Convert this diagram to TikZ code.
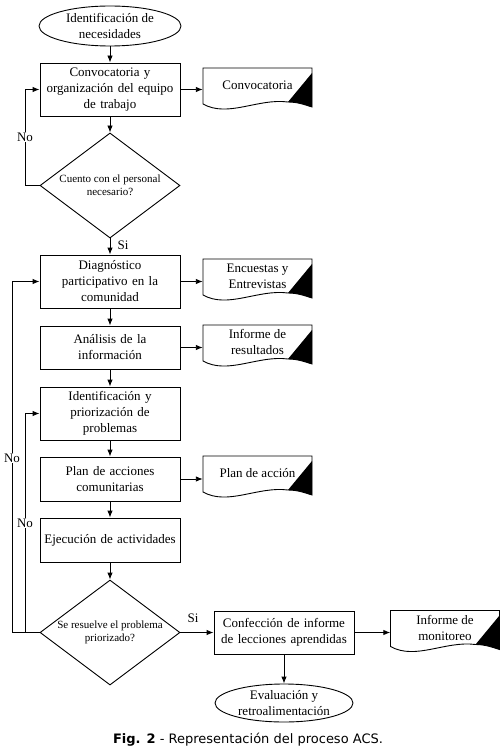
\documentclass[tikz,border=0pt]{standalone}
\usepackage{fontspec}
\setmainfont{Liberation Serif}
\newfontfamily\capfont{DejaVu Sans}
\usetikzlibrary{shapes.geometric,arrows.meta,calc}
\tikzset{
  x=1pt, y=-1pt,
  every node/.style={font=\fontsize{13}{16}\selectfont, align=center, inner sep=0pt},
  ln/.style={line width=0.9pt},
  arr/.style={ln, -{Latex[length=7pt,width=5.5pt]}},
  proc/.style={draw, ln, rectangle, minimum width=140, text width=138},
  term/.style={draw, ln, ellipse, minimum width=142, minimum height=40},
  doc/.style={minimum width=109, minimum height=34},
  dec/.style={draw, ln, diamond, minimum width=140, minimum height=105, aspect=1.333,
              font=\fontsize{11}{13}\selectfont},
  lbl/.style={fill=white, inner sep=1pt}
}
\newcommand\docshape[1]{%
  \draw[ln] ($(#1.center)+(-54.5,19)$) -- ($(#1.center)+(-54.5,-17)$)
    -- ($(#1.center)+(54.5,-17)$) -- ($(#1.center)+(54.5,22)$)
    .. controls ($(#1.center)+(48,20)$) and ($(#1.center)+(40.5,17)$) .. ($(#1.center)+(30.5,17)$)
    .. controls ($(#1.center)+(0.5,13)$) and ($(#1.center)+(-29.5,33)$) .. ($(#1.center)+(-54.5,19)$) -- cycle;
  \fill ($(#1.center)+(54.5,-12)$) -- ($(#1.center)+(54.5,22)$)
    .. controls ($(#1.center)+(48,20)$) and ($(#1.center)+(40.5,17)$) .. ($(#1.center)+(30.5,17)$) -- cycle;
}
\begin{document}
\begin{tikzpicture}
\useasboundingbox (0,0) rectangle (503,749);
\fill[white] (0,0) rectangle (503,749);

\node[term] (e1) at (110,26) {Identificación de\\necesidades};
\node[proc, minimum height=53] (b1) at (110,89.5) {Convocatoria y\\organización del equipo\\de trabajo};
\node[doc] (d1) at (257.5,85) {Convocatoria};
\node[dec] (q1) at (110,185.5) {Cuento con el personal\\necesario?};

\node[proc, minimum height=53] (b2) at (110,281.5) {Diagnóstico\\participativo en la\\comunidad};
\node[doc] (d2) at (257.5,276) {Encuestas y\\Entrevistas};
\node[proc, minimum height=43] (b3) at (110,347.5) {Análisis de la\\información};
\node[doc] (d3) at (257.5,342) {Informe de\\resultados};
\node[proc, minimum height=53] (b4) at (110,413.5) {Identificación y\\priorización de\\problemas};
\node[proc, minimum height=44] (b5) at (110,479) {Plan de acciones\\comunitarias};
\node[doc] (d4) at (257.5,473) {Plan de acción};
\node[proc, minimum height=44] (b6) at (110,540) {Ejecución de actividades};
\node[dec] (q2) at (110,632.5) {Se resuelve el problema\\priorizado?};
\node[proc, minimum height=43] (b7) at (284,632.5) {Confección de informe\\de lecciones aprendidas};
\node[doc] (d5) at (445,627.5) {Informe de\\monitoreo};
\node[term, minimum width=138, minimum height=38] (e2) at (284,703) {Evaluación y\\retroalimentación};

\docshape{d1}\docshape{d2}\docshape{d3}\docshape{d4}\docshape{d5}

\coordinate (L1) at (12,0);
\coordinate (L2) at (25,0);

\draw[arr] (e1.south) -- (b1.north);
\draw[arr] (b1.east) -- (b1.east -| d1.west);
\draw[arr] (b1.south) -- (q1.north);
\draw[arr] (q1.west) -- (q1.west -| L2) -- (L2 |- b1.west) -- (b1.west);
\draw[arr] (q1.south) -- (b2.north);
\draw[arr] (b2.east) -- (b2.east -| d2.west);
\draw[arr] (b2.south) -- (b3.north);
\draw[arr] (b3.east) -- (b3.east -| d3.west);
\draw[arr] (b3.south) -- (b4.north);
\draw[arr] (b4.south) -- (b5.north);
\draw[arr] (b5.east) -- (b5.east -| d4.west);
\draw[arr] (b5.south) -- (b6.north);
\draw[arr] (b6.south) -- (q2.north);
\draw[arr] (q2.west) -- (q2.west -| L1) -- (L1 |- b2.west) -- (b2.west);
\draw[arr] (q2.west) -- (q2.west -| L2) -- (L2 |- b4.west) -- (b4.west);
\draw[arr] (q2.east) -- (b7.west);
\draw[arr] (b7.east) -- (b7.east -| d5.west);
\draw[arr] (b7.south) -- (e2.north);

\node[lbl] (no1) at (25,137) {No};
\node[lbl] (no2) at (12,458) {No};
\node[lbl] (no3) at (25,523) {No};
\node (si1) at (123,245) {Si};
\node (si2) at (193,618) {Si};

\node[font=\capfont\fontsize{13}{16}\selectfont] (cap) at (248,740) {\textbf{Fig. 2} - Representación del proceso ACS.};
\end{tikzpicture}
\end{document}
